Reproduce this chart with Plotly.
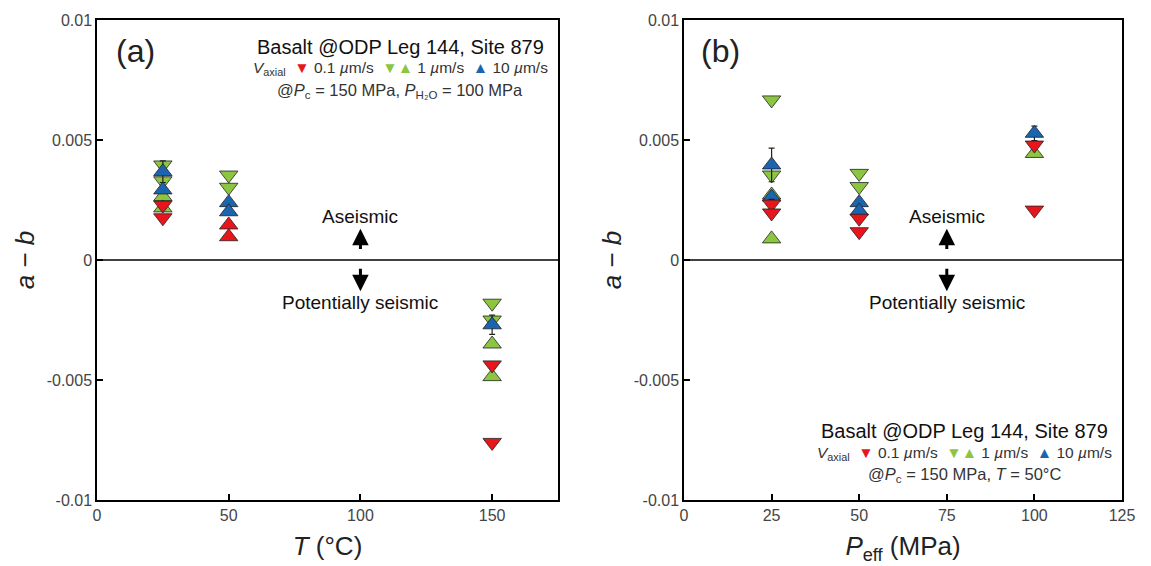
import plotly.graph_objects as go

# ---------------- data ----------------
# Panel (a): a-b vs T (°C)
a_red_down_T = [25, 25, 150, 150]
a_red_down_v = [0.00229, 0.00176, -0.00437, -0.0076]
a_red_up_T = [50, 50]
a_red_up_v = [0.00146, 0.00097]
a_green_down_T = [25, 25, 50, 50, 150, 150]
a_green_down_v = [0.00396, 0.0033, 0.00354, 0.00303, -0.0018, -0.0025]
a_green_up_T = [25, 25, 150, 150]
a_green_up_v = [0.00264, 0.00217, -0.0035, -0.00486]
a_blue_up_T = [25, 25, 50, 50, 150]
a_blue_up_v = [0.00368, 0.00292, 0.00239, 0.00201, -0.0027]
a_blue_up_err = [0.00045, 0, 0, 0, 0.0004]

# Panel (b): a-b vs Peff (MPa)
b_red_down_P = [25, 25, 50, 50, 100, 100]
b_red_down_v = [0.00233, 0.00196, 0.00174, 0.00118, 0.00479, 0.00208]
b_red_down_err = [0.0002, 0, 0, 0, 0, 0]
b_green_down_P = [25, 25, 50, 50]
b_green_down_v = [0.00667, 0.00354, 0.00361, 0.00306]
b_green_up_P = [25, 25, 100]
b_green_up_v = [0.00271, 0.00088, 0.00444]
b_blue_up_P = [25, 25, 50, 50, 100]
b_blue_up_v = [0.00396, 0.00262, 0.00239, 0.00204, 0.00528]
b_blue_up_err = [0.0007, 0, 0, 0, 0.0003]

y_ticks = [0.01, 0.005, 0, -0.005, -0.01]
y_tick_text = ["0.01", "0.005", "0", "-0.005", "-0.01"]
a_x_ticks = [0, 50, 100, 150]
b_x_ticks = [0, 25, 50, 75, 100, 125]

RED = "#E8161C"
GREEN = "#8CC640"
BLUE = "#1A64B0"
FONT = "Liberation Sans, Arial, sans-serif"
MS = 16

fig = go.Figure()


def add(x, y, color, symbol, xa, ya, err=None):
    kw = {}
    if err is not None:
        kw["error_y"] = dict(type="data", array=err, visible=True,
                             color="#222", thickness=1.2, width=3)
    fig.add_trace(go.Scatter(
        x=x, y=y, mode="markers", xaxis=xa, yaxis=ya, showlegend=False,
        marker=dict(symbol=symbol, size=MS, color=color,
                    line=dict(color="#222", width=0.8)), **kw))


# panel a
add(a_green_down_T, a_green_down_v, GREEN, "triangle-down", "x", "y")
add(a_green_up_T, a_green_up_v, GREEN, "triangle-up", "x", "y")
add(a_blue_up_T, a_blue_up_v, BLUE, "triangle-up", "x", "y", a_blue_up_err)
add(a_red_down_T, a_red_down_v, RED, "triangle-down", "x", "y")
add(a_red_up_T, a_red_up_v, RED, "triangle-up", "x", "y")
# panel b
add(b_green_down_P, b_green_down_v, GREEN, "triangle-down", "x2", "y2")
add(b_green_up_P, b_green_up_v, GREEN, "triangle-up", "x2", "y2")
add(b_blue_up_P, b_blue_up_v, BLUE, "triangle-up", "x2", "y2", b_blue_up_err)
add(b_red_down_P, b_red_down_v, RED, "triangle-down", "x2", "y2", b_red_down_err)

axis_common = dict(showline=True, linecolor="black", linewidth=1.5, mirror=True,
                   ticks="inside", ticklen=6, tickwidth=1.5, tickcolor="black",
                   showgrid=False, zeroline=False, automargin=False,
                   tickfont=dict(family=FONT, size=16, color="#444"))

ydom = [1 - 500 / 566, 1 - 20 / 566]
TITLE_FONT = dict(size=26, color="#222", family=FONT)
fig.update_layout(
    width=1151, height=566, margin=dict(l=0, r=0, t=0, b=0, autoexpand=False),
    paper_bgcolor="white", plot_bgcolor="white",
    font=dict(family=FONT),
    xaxis=dict(domain=[97 / 1151, 558 / 1151], range=[0, 175], tickvals=a_x_ticks,
               title=dict(text="<i>T</i> (°C)", font=TITLE_FONT, standoff=14),
               **axis_common),
    yaxis=dict(domain=ydom, range=[-0.01, 0.01], tickvals=y_ticks, ticktext=y_tick_text,
               title=dict(text="<i>a</i> − <i>b</i>", font=TITLE_FONT, standoff=5),
               **axis_common),
    xaxis2=dict(domain=[684 / 1151, 1122 / 1151], range=[0, 125], tickvals=b_x_ticks,
                anchor="y2",
                title=dict(text="<i>P</i><sub>eff</sub> (MPa)", font=TITLE_FONT, standoff=14),
                **axis_common),
    yaxis2=dict(domain=ydom, range=[-0.01, 0.01], tickvals=y_ticks, ticktext=y_tick_text,
                anchor="x2",
                title=dict(text="<i>a</i> − <i>b</i>", font=TITLE_FONT, standoff=5),
                **axis_common),
)

# zero lines
for xa, ya, xr in [("x", "y", 175), ("x2", "y2", 125)]:
    fig.add_shape(type="line", xref=xa, yref=ya, x0=0, x1=xr, y0=0, y1=0,
                  line=dict(color="black", width=1.5))

ann = []
# panel labels
ann.append(dict(xref="x", yref="y", x=14.5, y=0.0087, text="(a)", showarrow=False,
                xanchor="center", font=dict(size=32, color="#222", family=FONT)))
ann.append(dict(xref="x2", yref="y2", x=10.5, y=0.0087, text="(b)", showarrow=False,
                xanchor="center", font=dict(size=32, color="#222", family=FONT)))

# Aseismic / potentially seismic with arrows
for xa, ya, xc in [("x", "y", 100), ("x2", "y2", 75)]:
    ann.append(dict(xref=xa, yref=ya, x=xc, y=0.0018, xanchor="center",
                    text="Aseismic", showarrow=False,
                    font=dict(size=19, color="#111", family=FONT)))
    ann.append(dict(xref=xa, yref=ya, x=xc, y=-0.00175, xanchor="center",
                    text="Potentially seismic",
                    showarrow=False, font=dict(size=19, color="#111", family=FONT)))
    ann.append(dict(xref=xa, yref=ya, axref=xa, ayref=ya, x=xc, y=0.0013, ax=xc, ay=0.0004,
                    showarrow=True, arrowhead=2, arrowsize=1.1, arrowwidth=3, arrowcolor="black",
                    text=""))
    ann.append(dict(xref=xa, yref=ya, axref=xa, ayref=ya, x=xc, y=-0.0013, ax=xc, ay=-0.0003,
                    showarrow=True, arrowhead=2, arrowsize=1.1, arrowwidth=3, arrowcolor="black",
                    text=""))

legend_line2 = ("<i>V</i><sub>axial</sub>  <span style='color:%s'>▼</span> 0.1 <i>µ</i>m/s  "
                "<span style='color:%s'>▼▲</span> 1 <i>µ</i>m/s  "
                "<span style='color:%s'>▲</span> 10 <i>µ</i>m/s") % (RED, GREEN, BLUE)


def px(xp, yp):
    return xp / 1151, 1 - yp / 566


for (cx, y1, y2, y3, line3) in [
    (400, 47, 69, 91, "@<i>P</i><sub>c</sub> = 150 MPa, <i>P</i><sub>H₂O</sub> = 100 MPa"),
    (964, 431, 453, 475, "@<i>P</i><sub>c</sub> = 150 MPa, <i>T</i> = 50°C"),
]:
    x0, yy = px(cx, y1)
    ann.append(dict(xref="paper", yref="paper", x=x0, y=yy, xanchor="center", yanchor="middle",
                    text="Basalt @ODP Leg 144, Site 879",
                    showarrow=False, font=dict(size=20, color="#111", family=FONT)))
    x0, yy = px(cx, y2)
    ann.append(dict(xref="paper", yref="paper", x=x0, y=yy, xanchor="center", yanchor="middle",
                    text=legend_line2,
                    showarrow=False, font=dict(size=15.5, color="#333", family=FONT)))
    x0, yy = px(cx, y3)
    ann.append(dict(xref="paper", yref="paper", x=x0, y=yy, xanchor="center", yanchor="middle",
                    text=line3,
                    showarrow=False, font=dict(size=16.5, color="#333", family=FONT)))

fig.update_layout(annotations=ann)
fig.write_html("out.html")
